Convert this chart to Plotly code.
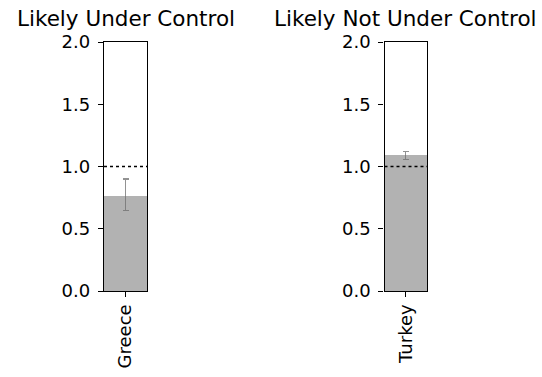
import plotly.graph_objects as go

panels = ["Likely Under Control", "Likely Not Under Control"]
countries = ["Greece", "Turkey"]
values = [0.763, 1.09]
err_plus = [0.137, 0.032]
err_minus = [0.115, 0.035]
threshold = 1.0
y_ticks = [0.0, 0.5, 1.0, 1.5, 2.0]

W, H = 542, 377
x_domains = [[104 / W, 147 / W], [384.5 / W, 427 / W]]
y_domain = [1 - 291 / H, 1 - 42 / H]

fig = go.Figure()
font = "DejaVu Sans"
for i in range(2):
    xa = "x" if i == 0 else "x2"
    ya = "y" if i == 0 else "y2"
    fig.add_trace(go.Bar(
        x=[countries[i]], y=[values[i]], xaxis=xa, yaxis=ya,
        width=1, marker=dict(color="#b2b2b2", line=dict(width=0)),
        error_y=dict(type="data", symmetric=False, array=[err_plus[i]],
                     arrayminus=[err_minus[i]], color="rgba(110,110,110,0.75)",
                     thickness=1.3, width=3),
        showlegend=False,
    ))
    fig.add_shape(type="line", xref=f"{xa} domain", yref=ya, x0=0, x1=1,
                  y0=threshold, y1=threshold,
                  line=dict(color="black", width=1.5, dash="dot"))
    fig.add_annotation(text=panels[i], xref="paper", yref="paper",
                       x=sum(x_domains[i]) / 2, y=1 - 18.5 / H,
                       showarrow=False, xanchor="center", yanchor="middle",
                       font=dict(family=font, size=21.5, color="black"))

axis_common = dict(showline=True, mirror=True, linecolor="black", linewidth=1.3,
                   ticks="outside", ticklen=5, tickwidth=1.2, tickcolor="black",
                   showgrid=False, zeroline=False, automargin=False,
                   tickfont=dict(family=font, size=18, color="black"))
fig.update_layout(
    width=W, height=H, margin=dict(l=0, r=0, t=0, b=0),
    paper_bgcolor="white", plot_bgcolor="white", bargap=0,
    xaxis=dict(domain=x_domains[0], anchor="y", tickangle=-90, **axis_common),
    xaxis2=dict(domain=x_domains[1], anchor="y2", tickangle=-90, **axis_common),
    yaxis=dict(domain=y_domain, anchor="x", range=[0, 2], tickvals=y_ticks,
               ticktext=[f"{v:.1f}" for v in y_ticks], ticklabelstandoff=4,
               **axis_common),
    yaxis2=dict(domain=y_domain, anchor="x2", range=[0, 2], tickvals=y_ticks,
                ticktext=[f"{v:.1f}" for v in y_ticks], ticklabelstandoff=4,
                **axis_common),
)
fig.write_html("out.html")
